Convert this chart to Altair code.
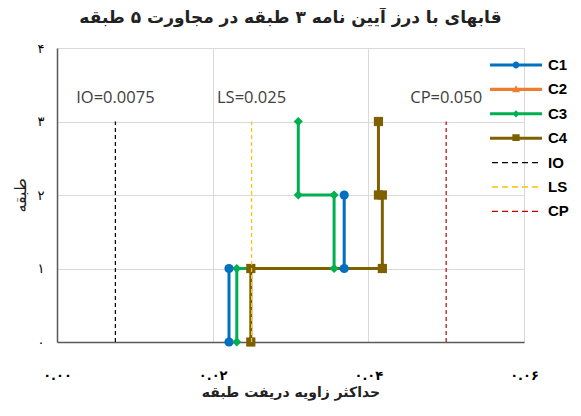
import math
import altair as alt
import pandas as pd

# ---------------- data ----------------
SERIES = ["C1", "C2", "C3", "C4"]
SERIES_COLORS = ["#0070C0", "#ED7D31", "#00B050", "#7F6000"]
SERIES_SHAPES = ["circle", "triangle-up", "diamond", "square"]

C1_DRIFT = [0.0221, 0.0221, 0.0369, 0.0369]
C1_STORY = [0, 1, 1, 2]
C2_DRIFT = []
C2_STORY = []
C3_DRIFT = [0.0231, 0.0231, 0.0356, 0.0356, 0.0310, 0.0310]
C3_STORY = [0, 1, 1, 2, 2, 3]
C4_DRIFT = [0.0249, 0.0249, 0.0418, 0.0418, 0.0413, 0.0413]
C4_STORY = [0, 1, 1, 2, 2, 3]

LIMIT_NAMES = ["IO", "LS", "CP"]
LIMIT_VALUES = [0.0075, 0.025, 0.050]
LIMIT_TEXT = ["IO=0.0075", "LS=0.025", "CP=0.050"]
LIMIT_COLORS = ["#000000", "#FFC000", "#C00000"]
LIMIT_BASE = 0
LIMIT_TOP = 3

X_TICKS = [0, 0.02, 0.04, 0.06]
X_TICK_LABELS = ["۰.۰۰", "۰.۰۲", "۰.۰۴", "۰.۰۶"]
Y_TICKS = [0, 1, 2, 3, 4]
Y_TICK_LABELS = ["۰", "۱", "۲", "۳", "۴"]

TITLE = "قابهای با درز آیین نامه ۳ طبقه در مجاورت ۵ طبقه"
X_TITLE = "حداکثر زاویه دریفت طبقه"
Y_TITLE = "طبقه"

# ---------------- tables ----------------
rows = []
for name, xs, ys in [("C1", C1_DRIFT, C1_STORY), ("C2", C2_DRIFT, C2_STORY),
                     ("C3", C3_DRIFT, C3_STORY), ("C4", C4_DRIFT, C4_STORY)]:
    for i, (xv, yv) in enumerate(zip(xs, ys)):
        rows.append({"series": name, "drift": xv, "story": yv, "seq": i})
df = pd.DataFrame(rows)

limits = pd.DataFrame({"name": LIMIT_NAMES, "value": LIMIT_VALUES,
                       "label": LIMIT_TEXT, "base": LIMIT_BASE, "top": LIMIT_TOP})

# ---------------- legend symbols (custom paths, 1 unit = 13px) ----------------
def circle_path(r, n=20):
    pts = [(r * math.cos(2 * math.pi * k / n), r * math.sin(2 * math.pi * k / n)) for k in range(n)]
    return "M" + "L".join(f"{x:.3f},{y:.3f}" for x, y in pts) + "Z"

LINE_RECT = "M-2,-0.12H2V0.12H-2Z"
def dashes(th=0.05):
    out = ""
    start = -1.85
    for k in range(5):
        a = start + k * 0.77
        b = a + 0.46
        out += f"M{a:.3f},{-th}H{b:.3f}V{th}H{a:.3f}Z"
    return out

LEGEND_NAMES = SERIES + LIMIT_NAMES
LEGEND_COLORS = SERIES_COLORS + LIMIT_COLORS
LEGEND_PATHS = [
    LINE_RECT + circle_path(0.26),
    LINE_RECT + "M0,-0.32L0.3,0.22H-0.3Z",
    LINE_RECT + "M0,-0.28L0.28,0L0,0.28L-0.28,0Z",
    LINE_RECT + "M-0.28,-0.3H0.28V0.22H-0.28Z",
    dashes(), dashes(), dashes(),
]
legend_df = pd.DataFrame({"name": LEGEND_NAMES})

# ---------------- scales / axes ----------------
x_expr = "[" + ",".join(f"'{s}'" for s in X_TICK_LABELS) + "][round(datum.value / 0.02)]"
y_expr = "[" + ",".join(f"'{s}'" for s in Y_TICK_LABELS) + "][round(datum.value)]"

x_enc = alt.X("drift:Q", scale=alt.Scale(domain=[0, 0.06], nice=False),
              axis=alt.Axis(values=X_TICKS, labelExpr=x_expr, title=X_TITLE,
                            grid=True, ticks=False, labelPadding=27,
                            labelFont="DejaVu Sans", labelFontSize=13, labelFontWeight="bold",
                            labelColor="#000000", titleFont="DejaVu Sans", titleFontSize=14,
                            titleFontWeight="bold", titleColor="#222222", titlePadding=3,
                            labelFlush=False))
y_enc = alt.Y("story:Q", scale=alt.Scale(domain=[0, 4], nice=False),
              axis=alt.Axis(values=Y_TICKS, labelExpr=y_expr, title=Y_TITLE,
                            grid=True, ticks=False, labelPadding=13,
                            labelFont="DejaVu Sans", labelFontSize=13,
                            labelColor="#000000", titleFont="DejaVu Sans", titleFontSize=16,
                            titleFontWeight="normal", titleColor="#222222", titlePadding=9,
                            labelFlush=False))

series_color = alt.Color("series:N", scale=alt.Scale(domain=SERIES, range=SERIES_COLORS), legend=None)

lines = alt.Chart(df).mark_line(strokeWidth=3).encode(
    x=x_enc, y=y_enc, color=series_color, order="seq:Q")

points = alt.Chart(df).mark_point(filled=True, size=85, opacity=1).encode(
    x="drift:Q", y="story:Q", color=series_color,
    shape=alt.Shape("series:N", scale=alt.Scale(domain=SERIES, range=SERIES_SHAPES), legend=None))

rules = alt.Chart(limits).mark_rule(strokeDash=[4, 3], strokeWidth=1.2).encode(
    x="value:Q", y="base:Q", y2="top:Q",
    color=alt.Color("name:N", scale=alt.Scale(domain=LIMIT_NAMES, range=LIMIT_COLORS), legend=None))

texts = alt.Chart(limits).mark_text(font="Open Sans", fontSize=16.5, color="#404040").encode(
    x="value:Q", y=alt.value(50), text="label:N")

leg = alt.Legend(title=None, orient="none", legendX=446, legendY=4, padding=0,
                 symbolSize=676, symbolStrokeWidth=0, symbolOpacity=1,
                 labelOffset=19, labelFont="Liberation Sans", labelFontSize=15,
                 labelFontWeight="bold", labelColor="#000000", rowPadding=3.4)

legend_layer = alt.Chart(legend_df).mark_point(filled=True, opacity=0).encode(
    color=alt.Color("name:N", scale=alt.Scale(domain=LEGEND_NAMES, range=LEGEND_COLORS), legend=leg),
    shape=alt.Shape("name:N", scale=alt.Scale(domain=LEGEND_NAMES, range=LEGEND_PATHS), legend=leg))

chart = alt.layer(lines, points, rules, texts, legend_layer).resolve_scale(
    color="independent", shape="independent"
).properties(
    width=467, height=294,
    title=alt.TitleParams(TITLE, font="DejaVu Sans", fontSize=17, fontWeight="bold",
                          color="#222222", anchor="middle", offset=15),
    autosize=alt.AutoSizeParams(type="none"),
    padding={"left": 49, "top": 40, "right": 49, "bottom": 62},
).configure_view(stroke=None).configure_axis(
    gridColor="#D9D9D9", gridWidth=1, domainColor="#595959", domainWidth=1.5
)

chart.save("out.html", embed_options={"renderer": "svg", "actions": False})
